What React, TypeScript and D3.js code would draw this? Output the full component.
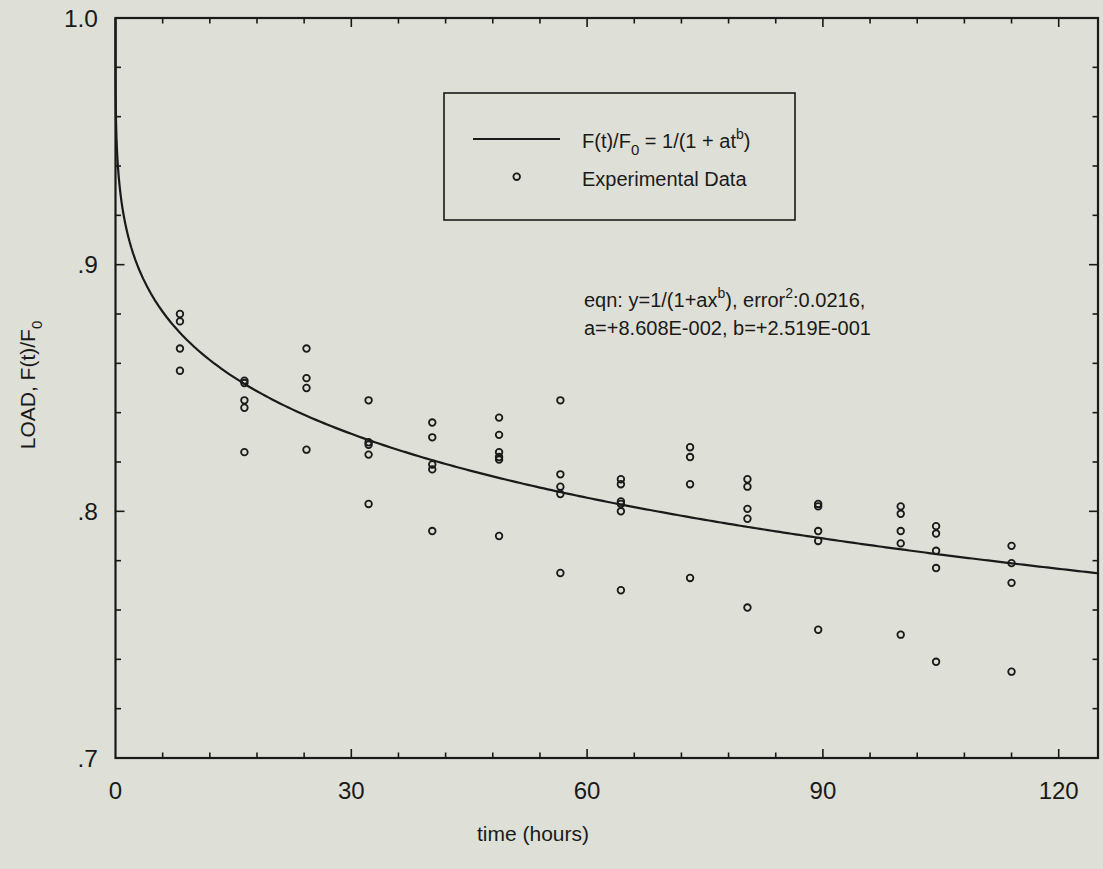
import React from "react";
import * as d3 from "d3";

// Fit parameters printed on the chart: y = 1/(1 + a t^b)
const FIT_A = 0.08608;
const FIT_B = 0.2519;

// Measurement times (hours), one column of points each
const TIMES = [8.2, 16.4, 24.3, 32.2, 40.3, 48.8, 56.6, 64.3, 73.1, 80.4, 89.4, 99.9, 104.4, 114.0];

// Normalised load readings at each time
const LOADS: number[][] = [
  [0.880, 0.877, 0.866, 0.857],
  [0.853, 0.852, 0.845, 0.842, 0.824],
  [0.866, 0.854, 0.850, 0.825],
  [0.845, 0.828, 0.827, 0.823, 0.803],
  [0.836, 0.830, 0.819, 0.817, 0.792],
  [0.838, 0.831, 0.824, 0.822, 0.821, 0.790],
  [0.845, 0.815, 0.810, 0.807, 0.775],
  [0.813, 0.811, 0.804, 0.803, 0.800, 0.768],
  [0.826, 0.822, 0.811, 0.773],
  [0.813, 0.810, 0.801, 0.797, 0.761],
  [0.803, 0.802, 0.792, 0.788, 0.752],
  [0.802, 0.799, 0.792, 0.787, 0.750],
  [0.794, 0.791, 0.784, 0.777, 0.739],
  [0.786, 0.779, 0.771, 0.735],
];

const X_TICKS = [0, 30, 60, 90, 120];
const Y_TICKS = [0.7, 0.8, 0.9, 1.0];
const Y_TICK_LABELS = [".7", ".8", ".9", "1.0"];

const W = 1103;
const H = 869;
const FONT = "'Liberation Sans', Arial, Helvetica, sans-serif";
const INK = "#1a1a1a";

export default function App() {
  const x = d3.scaleLinear().domain([0, 125]).range([115.5, 1098]);
  const y = d3.scaleLinear().domain([0.7, 1.0]).range([758, 18]);

  const [x0, x1] = x.range();
  const [yb, yt] = y.range();

  // curve samples: log spaced near zero then linear
  const tSamples = [0, ...d3.range(-4, 0.5, 0.05).map((e) => Math.pow(10, e)), ...d3.range(3, 125.01, 0.5)];
  const line = d3
    .line<number>()
    .x((t) => x(t))
    .y((t) => y(1 / (1 + FIT_A * Math.pow(t, FIT_B))))
    .curve(d3.curveLinear);

  const xMinor = d3.range(0, 125.01, 6);
  const yMinor = d3.range(0.7, 1.0001, 0.02);

  const points: { t: number; v: number }[] = [];
  TIMES.forEach((t, i) => LOADS[i].forEach((v) => points.push({ t, v })));

  return (
    <svg
      width={W}
      height={H}
      style={{ position: "absolute", left: 0, top: 0, background: "#dedfd6" }}
      fontFamily={FONT}
    >
      <rect x={0} y={0} width={W} height={H} fill="#dedfd6" />

      {/* x ticks bottom and top */}
      {xMinor.map((t, i) => {
        const major = Math.abs(t % 30) < 1e-6;
        const len = major ? 9 : 5.5;
        if (t === 0) return null;
        return (
          <g key={"xt" + i} stroke={INK} strokeWidth={1.6}>
            <line x1={x(t)} x2={x(t)} y1={yb} y2={yb - len} />
            <line x1={x(t)} x2={x(t)} y1={yt} y2={yt + len} />
          </g>
        );
      })}
      {/* y ticks left and right */}
      {yMinor.map((v, i) => {
        const major = Math.abs(Math.round(v * 10) - v * 10) < 1e-6;
        const len = major ? 9 : 5.5;
        return (
          <g key={"yt" + i} stroke={INK} strokeWidth={1.6}>
            <line x1={x0} x2={x0 + len} y1={y(v)} y2={y(v)} />
            <line x1={x1} x2={x1 - len} y1={y(v)} y2={y(v)} />
          </g>
        );
      })}

      {/* frame */}
      <rect x={x0} y={yt} width={x1 - x0} height={yb - yt} fill="none" stroke={INK} strokeWidth={2.2} />

      {/* tick labels */}
      {X_TICKS.map((t) => (
        <text key={"xl" + t} x={x(t)} y={799} textAnchor="middle" fontSize={24} fill={INK}>
          {t}
        </text>
      ))}
      {Y_TICKS.map((v, i) => (
        <text key={"yl" + v} x={98} y={y(v) + 8.5} textAnchor="end" fontSize={24.5} fill={INK}>
          {Y_TICK_LABELS[i]}
        </text>
      ))}

      {/* axis titles */}
      <text x={533} y={841} textAnchor="middle" fontSize={21} fill={INK}>
        time (hours)
      </text>
      <text transform="translate(35,385) rotate(-90)" textAnchor="middle" fontSize={21} fill={INK}>
        LOAD, F(t)/F
        <tspan fontSize={15} dy={7}>0</tspan>
      </text>

      {/* fitted curve */}
      <path d={line(tSamples) || ""} fill="none" stroke={INK} strokeWidth={2.2} />

      {/* data points */}
      {points.map((p, i) => (
        <circle key={"p" + i} cx={x(p.t)} cy={y(p.v)} r={3.3} fill="none" stroke={INK} strokeWidth={1.8} />
      ))}

      {/* legend */}
      <rect x={444} y={93} width={351} height={127} fill="none" stroke={INK} strokeWidth={1.6} />
      <line x1={473} x2={560} y1={139} y2={139} stroke={INK} strokeWidth={2} />
      <text x={582} y={148} fontSize={20} fill={INK}>
        F(t)/F<tspan fontSize={15} dy={7}>0</tspan>
        <tspan dy={-7}> = 1/(1 + at</tspan>
        <tspan fontSize={14} dy={-9}>b</tspan>
        <tspan dy={9}>)</tspan>
      </text>
      <circle cx={516.7} cy={176.7} r={3.3} fill="none" stroke={INK} strokeWidth={1.8} />
      <text x={582} y={186} fontSize={20} fill={INK}>
        Experimental Data
      </text>

      {/* annotation */}
      <text x={584} y={307} fontSize={20} fill={INK}>
        eqn: y=1/(1+ax<tspan fontSize={14} dy={-9}>b</tspan>
        <tspan dy={9}>), error</tspan>
        <tspan fontSize={14} dy={-9}>2</tspan>
        <tspan dy={9}>:0.0216,</tspan>
      </text>
      <text x={584} y={335} fontSize={20} fill={INK}>
        a=+8.608E-002, b=+2.519E-001
      </text>
    </svg>
  );
}
